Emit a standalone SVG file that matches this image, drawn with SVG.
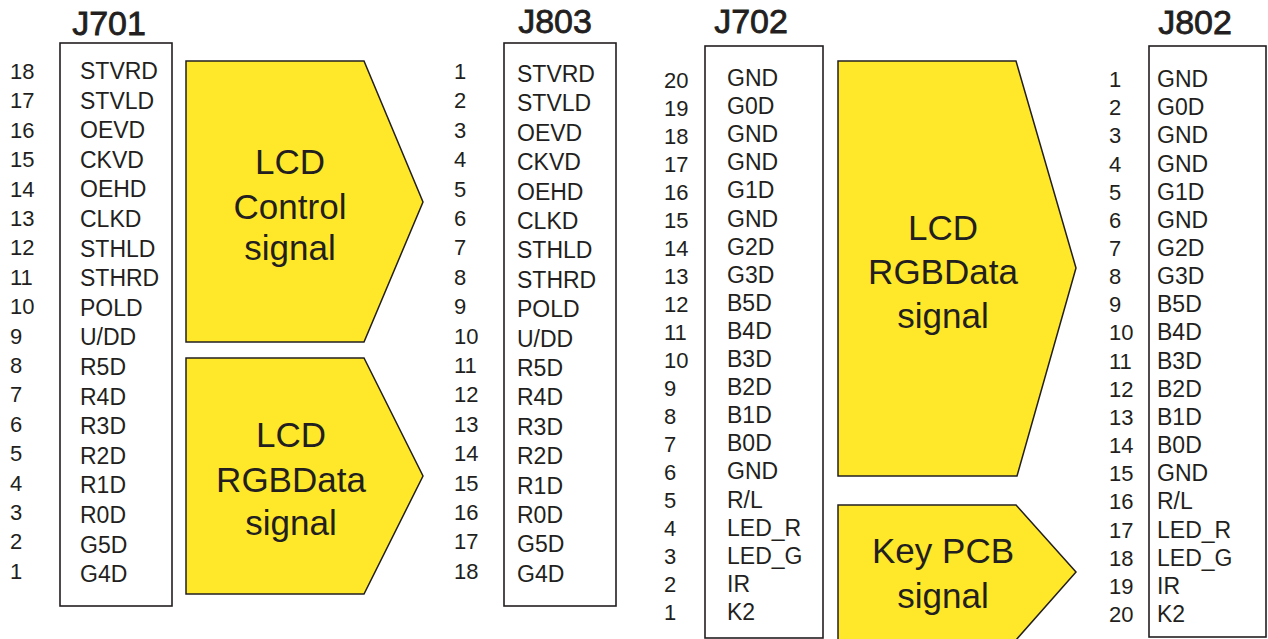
<svg xmlns="http://www.w3.org/2000/svg" width="1268" height="639" viewBox="0 0 1268 639">
<style>
text{font-family:"Liberation Sans",Arial,sans-serif;fill:#231f20}
.t{font-size:34px;text-anchor:middle;stroke:#231f20;stroke-width:0.8}
.n{font-size:22px}
.l{font-size:23px}
.a{font-size:35px;text-anchor:middle}
.box{fill:#fff;stroke:#231f20;stroke-width:1.6}
.arr{fill:#ffe82a;stroke:#231f20;stroke-width:1.5;stroke-linejoin:miter}
</style>
<rect width="1268" height="639" fill="#fff"/>

<g id="J701">
<text class="t" x="109" y="35">J701</text>
<rect class="box" x="60" y="43" width="112" height="563"/>
<g class="n">
<text x="10" y="79">18</text><text x="10" y="108.4">17</text><text x="10" y="137.8">16</text><text x="10" y="167.2">15</text><text x="10" y="196.6">14</text><text x="10" y="226">13</text><text x="10" y="255.4">12</text><text x="10" y="284.8">11</text><text x="10" y="314.2">10</text><text x="10" y="343.6">9</text><text x="10" y="373">8</text><text x="10" y="402.4">7</text><text x="10" y="431.8">6</text><text x="10" y="461.2">5</text><text x="10" y="490.6">4</text><text x="10" y="520">3</text><text x="10" y="549.4">2</text><text x="10" y="578.8">1</text>
</g>
<g class="l">
<text x="80" y="79">STVRD</text><text x="80" y="108.6">STVLD</text><text x="80" y="138.2">OEVD</text><text x="80" y="167.8">CKVD</text><text x="80" y="197.4">OEHD</text><text x="80" y="227">CLKD</text><text x="80" y="256.6">STHLD</text><text x="80" y="286.2">STHRD</text><text x="80" y="315.8">POLD</text><text x="80" y="345.4">U/DD</text><text x="80" y="375">R5D</text><text x="80" y="404.6">R4D</text><text x="80" y="434.2">R3D</text><text x="80" y="463.8">R2D</text><text x="80" y="493.4">R1D</text><text x="80" y="523">R0D</text><text x="80" y="552.6">G5D</text><text x="80" y="582.2">G4D</text>
</g>
</g>

<g id="J803">
<text class="t" x="555" y="33">J803</text>
<rect class="box" x="504" y="43" width="112" height="563"/>
<g class="n">
<text x="454" y="79">1</text><text x="454" y="108.4">2</text><text x="454" y="137.8">3</text><text x="454" y="167.2">4</text><text x="454" y="196.6">5</text><text x="454" y="226">6</text><text x="454" y="255.4">7</text><text x="454" y="284.8">8</text><text x="454" y="314.2">9</text><text x="454" y="343.6">10</text><text x="454" y="373">11</text><text x="454" y="402.4">12</text><text x="454" y="431.8">13</text><text x="454" y="461.2">14</text><text x="454" y="490.6">15</text><text x="454" y="520">16</text><text x="454" y="549.4">17</text><text x="454" y="578.8">18</text>
</g>
<g class="l">
<text x="517" y="82">STVRD</text><text x="517" y="111.4">STVLD</text><text x="517" y="140.8">OEVD</text><text x="517" y="170.2">CKVD</text><text x="517" y="199.6">OEHD</text><text x="517" y="229">CLKD</text><text x="517" y="258.4">STHLD</text><text x="517" y="287.8">STHRD</text><text x="517" y="317.2">POLD</text><text x="517" y="346.6">U/DD</text><text x="517" y="376">R5D</text><text x="517" y="405.4">R4D</text><text x="517" y="434.8">R3D</text><text x="517" y="464.2">R2D</text><text x="517" y="493.6">R1D</text><text x="517" y="523">R0D</text><text x="517" y="552.4">G5D</text><text x="517" y="581.8">G4D</text>
</g>
</g>

<g id="J702">
<text class="t" x="751" y="33">J702</text>
<rect class="box" x="705" y="46" width="118" height="592"/>
<g class="n">
<text x="664" y="88">20</text><text x="664" y="116">19</text><text x="664" y="144">18</text><text x="664" y="172">17</text><text x="664" y="200">16</text><text x="664" y="228">15</text><text x="664" y="256">14</text><text x="664" y="284">13</text><text x="664" y="312">12</text><text x="664" y="340">11</text><text x="664" y="368">10</text><text x="664" y="396">9</text><text x="664" y="424">8</text><text x="664" y="452">7</text><text x="664" y="480">6</text><text x="664" y="508">5</text><text x="664" y="536">4</text><text x="664" y="564">3</text><text x="664" y="592">2</text><text x="664" y="620">1</text>
</g>
<g class="l">
<text x="727" y="86">GND</text><text x="727" y="114.1">G0D</text><text x="727" y="142.2">GND</text><text x="727" y="170.3">GND</text><text x="727" y="198.4">G1D</text><text x="727" y="226.5">GND</text><text x="727" y="254.6">G2D</text><text x="727" y="282.7">G3D</text><text x="727" y="310.8">B5D</text><text x="727" y="338.9">B4D</text><text x="727" y="367">B3D</text><text x="727" y="395.1">B2D</text><text x="727" y="423.2">B1D</text><text x="727" y="451.3">B0D</text><text x="727" y="479.4">GND</text><text x="727" y="507.5">R/L</text><text x="727" y="535.6">LED_R</text><text x="727" y="563.7">LED_G</text><text x="727" y="591.8">IR</text><text x="727" y="619.9">K2</text>
</g>
</g>

<g id="J802">
<text class="t" x="1195" y="34">J802</text>
<rect class="box" x="1149" y="46" width="117" height="591"/>
<g class="n">
<text x="1109" y="87">1</text><text x="1109" y="115.2">2</text><text x="1109" y="143.3">3</text><text x="1109" y="171.5">4</text><text x="1109" y="199.6">5</text><text x="1109" y="227.8">6</text><text x="1109" y="256">7</text><text x="1109" y="284.1">8</text><text x="1109" y="312.3">9</text><text x="1109" y="340.4">10</text><text x="1109" y="368.6">11</text><text x="1109" y="396.8">12</text><text x="1109" y="424.9">13</text><text x="1109" y="453.1">14</text><text x="1109" y="481.2">15</text><text x="1109" y="509.4">16</text><text x="1109" y="537.6">17</text><text x="1109" y="565.7">18</text><text x="1109" y="593.9">19</text><text x="1109" y="622">20</text>
</g>
<g class="l">
<text x="1157" y="87">GND</text><text x="1157" y="115.2">G0D</text><text x="1157" y="143.3">GND</text><text x="1157" y="171.5">GND</text><text x="1157" y="199.6">G1D</text><text x="1157" y="227.8">GND</text><text x="1157" y="256">G2D</text><text x="1157" y="284.1">G3D</text><text x="1157" y="312.3">B5D</text><text x="1157" y="340.4">B4D</text><text x="1157" y="368.6">B3D</text><text x="1157" y="396.8">B2D</text><text x="1157" y="424.9">B1D</text><text x="1157" y="453.1">B0D</text><text x="1157" y="481.2">GND</text><text x="1157" y="509.4">R/L</text><text x="1157" y="537.6">LED_R</text><text x="1157" y="565.7">LED_G</text><text x="1157" y="593.9">IR</text><text x="1157" y="622">K2</text>
</g>
</g>

<g id="connectors">
<g id="arrow-lcd-control">
<path class="arr" d="M186,61 H364 L423,202 L364,342 H186 Z"/>
<text class="a" x="290" y="174">LCD</text><text class="a" x="290" y="219">Control</text><text class="a" x="290" y="260">signal</text>
</g>
<g id="arrow-lcd-rgb-1">
<path class="arr" d="M186,358 H364 L423,476 L364,594 H186 Z"/>
<text class="a" x="291" y="447">LCD</text><text class="a" x="291" y="492">RGBData</text><text class="a" x="291" y="535">signal</text>
</g>
<g id="arrow-lcd-rgb-2">
<path class="arr" d="M838,61 H1016 L1076,268 L1017,476 H838 Z"/>
<text class="a" x="943" y="240">LCD</text><text class="a" x="943" y="284">RGBData</text><text class="a" x="943" y="328">signal</text>
</g>
<g id="arrow-key-pcb">
<path class="arr" d="M838,505 H1016 L1076,572 L1016,640 H838 Z"/>
<text class="a" x="943" y="563">Key PCB</text><text class="a" x="943" y="608">signal</text>
</g>
</g>
</svg>
